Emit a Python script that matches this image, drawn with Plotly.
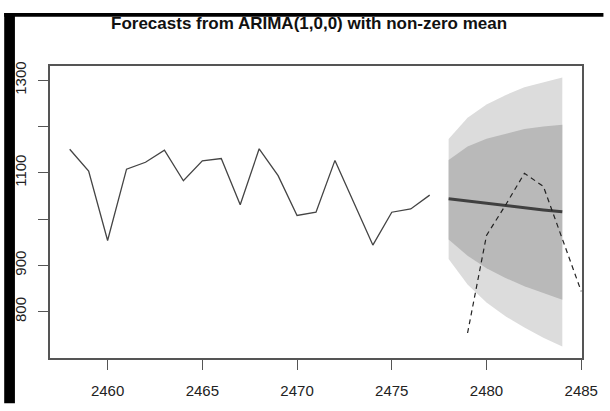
import plotly.graph_objects as go

# Observed series
hist_years = list(range(2458, 2478))
hist_values = [1151, 1104, 954, 1108, 1123, 1149, 1083, 1126, 1131, 1031,
               1152, 1094, 1008, 1015, 1127, 1035, 944, 1015, 1022, 1052]

# Point forecasts and prediction intervals
fc_years = list(range(2478, 2485))
fc_mean = [1044, 1039, 1034, 1029, 1025, 1020, 1016]
lo80 = [956, 921, 894, 873, 855, 840, 826]
hi80 = [1128, 1157, 1174, 1185, 1195, 1200, 1204]
lo95 = [914, 859, 820, 790, 766, 744, 725]
hi95 = [1173, 1219, 1248, 1268, 1285, 1296, 1306]

# Held-out actual values
test_years = list(range(2479, 2486))
test_values = [754, 965, 1030, 1099, 1071, 956, 844]

# Axis ticks
x_ticks = [2460, 2465, 2470, 2475, 2480, 2485]
y_ticks = [800, 900, 1000, 1100, 1200, 1300]
y_tick_text = ["800", "900", "", "1100", "", "1300"]

W, H = 610, 411
L, R, T, B = 47, 17, 66, 42
pw, ph = W - L - R, H - T - B


def px_x(p):
    return (p - L) / pw


def px_y(p):
    return (H - B - p) / ph


fig = go.Figure()

fig.add_trace(go.Scatter(
    x=fc_years + fc_years[::-1], y=hi95 + lo95[::-1],
    fill="toself", fillcolor="#dcdcdc", line=dict(width=0),
    mode="lines", hoverinfo="skip", showlegend=False))
fig.add_trace(go.Scatter(
    x=fc_years + fc_years[::-1], y=hi80 + lo80[::-1],
    fill="toself", fillcolor="#b9b9b9", line=dict(width=0),
    mode="lines", hoverinfo="skip", showlegend=False))
fig.add_trace(go.Scatter(
    x=fc_years, y=fc_mean, mode="lines",
    line=dict(color="#404040", width=3), showlegend=False))
fig.add_trace(go.Scatter(
    x=hist_years, y=hist_values, mode="lines",
    line=dict(color="#444444", width=1.3), showlegend=False))
fig.add_trace(go.Scatter(
    x=test_years, y=test_values, mode="lines",
    line=dict(color="#222222", width=1.2, dash="5px,4px"), showlegend=False))

axis_common = dict(
    showgrid=False, zeroline=False, showline=True, mirror=True,
    linecolor="#555555", linewidth=1.5,
    ticks="outside", ticklen=10, tickcolor="#555555", tickwidth=1,
    tickfont=dict(family="Liberation Sans, Arial, sans-serif", size=15, color="#222222"),
)

fig.update_xaxes(range=[2456.96, 2485.04], tickmode="array", tickvals=x_ticks,
                 ticktext=[str(v) for v in x_ticks], ticklabelstandoff=8,
                 **axis_common)
fig.update_yaxes(range=[700, 1331], tickmode="array", tickvals=y_ticks,
                 ticktext=y_tick_text, tickangle=-90, ticklabelstandoff=6,
                 **axis_common)

# Black frame around the page (left and top edges)
fig.add_shape(type="rect", xref="paper", yref="paper",
              x0=px_x(0), x1=px_x(11), y0=px_y(H + 5), y1=px_y(11),
              fillcolor="black", line=dict(width=0), layer="above")
fig.add_shape(type="rect", xref="paper", yref="paper",
              x0=px_x(0), x1=px_x(W + 5), y0=px_y(15), y1=px_y(11),
              fillcolor="black", line=dict(width=0), layer="above")

fig.update_layout(
    width=W, height=H,
    margin=dict(l=L, r=R, t=T, b=B),
    paper_bgcolor="white", plot_bgcolor="white",
    title=dict(text="<b>Forecasts from ARIMA(1,0,0) with non-zero mean</b>",
               font=dict(family="Liberation Sans, Arial, sans-serif", size=17, color="#111111"),
               x=0.487, xref="paper", xanchor="center",
               y=1 - 23 / H, yref="container", yanchor="middle"),
)

fig.write_html("out.html")
